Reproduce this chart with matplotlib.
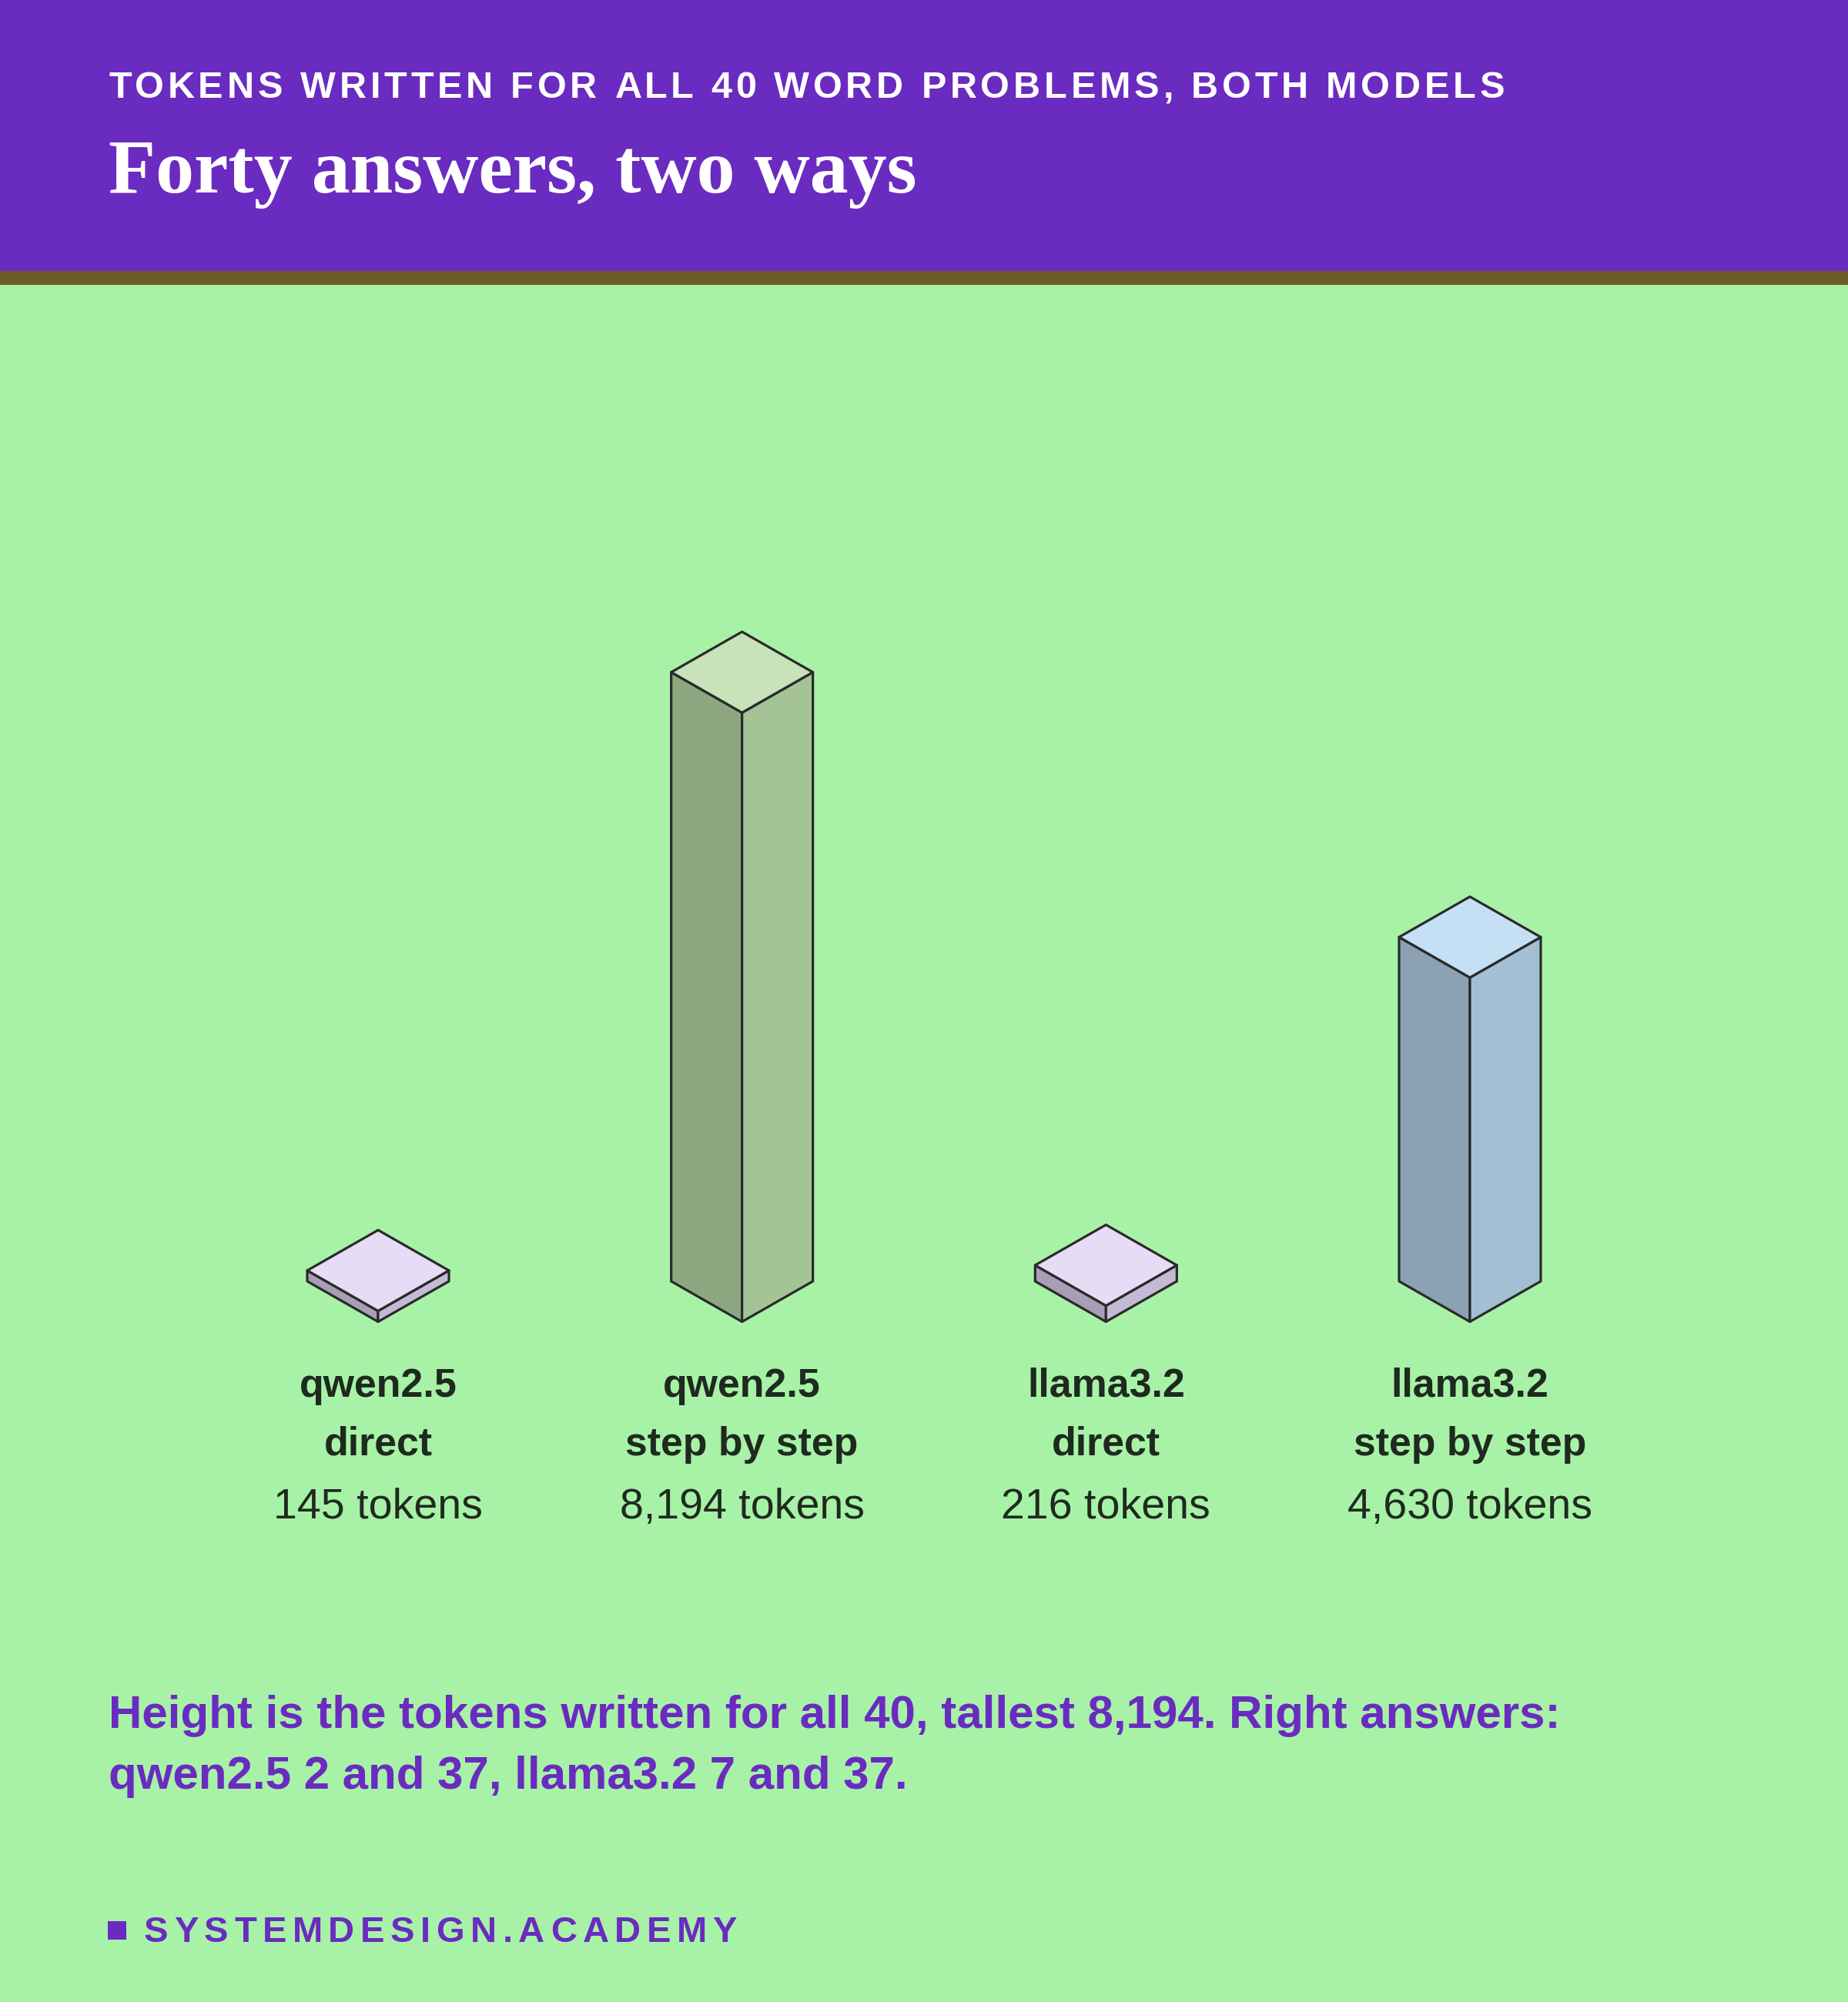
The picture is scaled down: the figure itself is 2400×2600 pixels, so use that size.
import matplotlib
matplotlib.use("Agg")
import matplotlib.pyplot as plt
from matplotlib.patches import Polygon, Rectangle
from matplotlib.textpath import TextToPath
from matplotlib.font_manager import FontProperties

# ---------------- data ----------------
models = ["qwen2.5", "qwen2.5", "llama3.2", "llama3.2"]
modes = ["direct", "step by step", "direct", "step by step"]
tokens = [145, 8194, 216, 4630]
token_labels = ["145 tokens", "8,194 tokens", "216 tokens", "4,630 tokens"]

kicker = "TOKENS WRITTEN FOR ALL 40 WORD PROBLEMS, BOTH MODELS"
title = "Forty answers, two ways"
note_lines = ["Height is the tokens written for all 40, tallest 8,194. Right answers:",
              "qwen2.5 2 and 37, llama3.2 7 and 37."]
footer = "SYSTEMDESIGN.ACADEMY"

# ---------------- style ----------------
BG = "#A8F2A8"
PURPLE = "#6A2BC0"
BROWN = "#6E5A24"
INK = "#1F2A1F"
EDGE = "#2A2A2A"
top_cols = ["#E6DCF5", "#C8E2BA", "#E6DCF5", "#C5E0F5"]
left_cols = ["#A99DB8", "#8DA880", "#A99DB8", "#8CA2B2"]
right_cols = ["#C5BAD6", "#A5C496", "#C5BAD6", "#A3BFD3"]

W, H, DPI = 2400, 2600, 100
fig = plt.figure(figsize=(W / DPI, H / DPI), dpi=DPI)
fig.patch.set_facecolor(BG)

bg = fig.add_axes([0, 0, 1, 1])
bg.set_xlim(0, W)
bg.set_ylim(H, 0)
bg.axis("off")
bg.add_patch(Rectangle((0, 0), W, 352, color=PURPLE, lw=0))
bg.add_patch(Rectangle((0, 352), W, 18, color=BROWN, lw=0))

ttp = TextToPath()


def text_w(s, prop):
    w1, _, _ = ttp.get_text_width_height_descent(s + "x", prop, ismath=False)
    w0, _, _ = ttp.get_text_width_height_descent("x", prop, ismath=False)
    return (w1 - w0) * DPI / 72.0


def spaced(ax, x0, y, s, target_w, prop, color):
    nat = text_w(s, prop)
    track = (target_w - nat) / (len(s) - 1)
    for k, ch in enumerate(s):
        if ch == " ":
            continue
        x = x0 + text_w(s[:k], prop) + k * track
        ax.text(x, y, ch, fontproperties=prop, color=color, ha="left", va="baseline")


SANS = "Liberation Sans"
kp = FontProperties(family=SANS, weight="bold", size=35)
spaced(bg, 141, 127, kicker, 1813, kp, "white")

bg.text(141, 250, title, family="Liberation Serif", weight="bold", fontsize=72,
        color="white", ha="left", va="baseline")

# ---------------- bars ----------------
x_left_px, x_right_px = 254.7, 2145.3
y_zero_px, y_max_px = 1664, 873
ax = fig.add_axes([x_left_px / W, 1 - y_zero_px / H,
                   (x_right_px - x_left_px) / W, (y_zero_px - y_max_px) / H])
ax.set_xlim(-0.5, len(tokens) - 0.5)
ax.set_ylim(0, max(tokens))
ax.axis("off")
ax.patch.set_alpha(0)

ax_w_px = x_right_px - x_left_px
ax_h_px = y_zero_px - y_max_px
a = 92 / (ax_w_px / len(tokens))          # half-width of diamond in x units
b = 52.5 / (ax_h_px / max(tokens))        # half-depth of diamond in y units

lw = 2.3
for i, h in enumerate(tokens):
    cx = i
    left = [(cx - a, h), (cx, h - b), (cx, -b), (cx - a, 0)]
    right = [(cx, h - b), (cx + a, h), (cx + a, 0), (cx, -b)]
    top = [(cx - a, h), (cx, h + b), (cx + a, h), (cx, h - b)]
    for pts, col in ((left, left_cols[i]), (right, right_cols[i]), (top, top_cols[i])):
        ax.add_patch(Polygon(pts, closed=True, facecolor=col, edgecolor=EDGE,
                             lw=lw, joinstyle="round", clip_on=False))

# ---------------- labels ----------------
centers_px = [x_left_px + (i + 0.5) * ax_w_px / len(tokens) for i in range(len(tokens))]
for i in range(len(tokens)):
    cx = centers_px[i]
    bg.text(cx, 1814, models[i], family=SANS, weight="bold", fontsize=37.4,
            color=INK, ha="center", va="baseline")
    bg.text(cx, 1890, modes[i], family=SANS, weight="bold", fontsize=37.4,
            color=INK, ha="center", va="baseline")
    bg.text(cx, 1972, token_labels[i], family=SANS, fontsize=40,
            color=INK, ha="center", va="baseline")

for j, line in enumerate(note_lines):
    bg.text(141, 2244 + 79 * j, line, family=SANS, weight="bold", fontsize=43.2,
            color=PURPLE, ha="left", va="baseline")

bg.add_patch(Rectangle((140, 2495), 24, 24, color=PURPLE, lw=0))
fp = FontProperties(family=SANS, weight="bold", size=34)
spaced(bg, 187, 2522, footer, 770, fp, PURPLE)

fig.savefig("out.png", dpi=DPI, facecolor=BG)
